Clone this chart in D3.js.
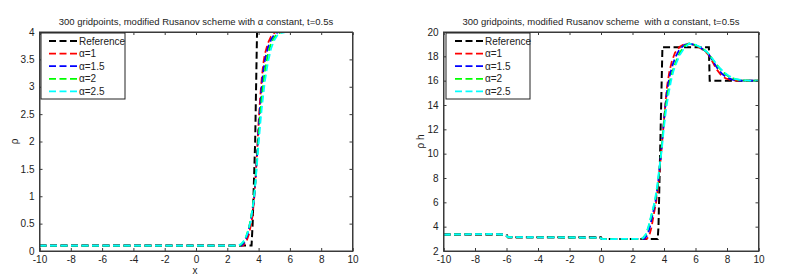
<!DOCTYPE html>
<html><head><meta charset="utf-8">
<script src="https://cdn.jsdelivr.net/npm/d3@7"></script>
<style>body{margin:0;background:#fff}svg{display:block}text{font-family:"Liberation Sans",Arial,sans-serif;fill:#222}</style>
</head><body>
<svg id="c" width="797" height="278"></svg>
<script>
const seriesNames = ["Reference","α=1","α=1.5","α=2","α=2.5"];
const seriesColors = ["#000000","#ff0000","#0000ff","#00ff00","#00ffff"];
const xTicks = [-10,-8,-6,-4,-2,0,2,4,6,8,10];
const rhoTicks = [0,0.5,1,1.5,2,2.5,3,3.5,4];
const rhohTicks = [2,4,6,8,10,12,14,16,18,20];

// Left panel: rho(x)
const rhoRef   = [[-10,0.1],[3.55,0.1],[3.62,0.5],[3.78,2.0],[3.9,4.0],[10,4.0]];
const rhoA1    = [[-10,0.1],[3.0,0.1],[3.2,0.16],[3.4,0.32],[3.6,0.62],[3.7,0.9],[3.8,1.3],[3.9,1.8],[4.0,2.35],[4.1,2.8],[4.2,3.15],[4.3,3.42],[4.4,3.6],[4.6,3.8],[4.8,3.92],[5.0,3.98],[5.1,4.0],[10,4.0]];
const rhoA15   = [[-10,0.1],[2.9,0.1],[3.1,0.16],[3.3,0.3],[3.5,0.57],[3.7,0.92],[3.8,1.28],[3.9,1.73],[4.0,2.22],[4.1,2.65],[4.2,3.0],[4.3,3.28],[4.4,3.48],[4.6,3.72],[4.8,3.86],[5.0,3.95],[5.2,3.99],[5.3,4.0],[10,4.0]];
const rhoA2    = [[-10,0.1],[2.8,0.1],[3.0,0.15],[3.2,0.26],[3.4,0.44],[3.6,0.75],[3.7,0.98],[3.8,1.27],[3.9,1.67],[4.0,2.1],[4.1,2.48],[4.2,2.8],[4.3,3.06],[4.4,3.28],[4.6,3.6],[4.8,3.8],[5.0,3.9],[5.2,3.97],[5.5,4.0],[10,4.0]];
const rhoA25   = [[-10,0.1],[2.7,0.1],[2.9,0.13],[3.1,0.2],[3.3,0.33],[3.5,0.55],[3.7,0.95],[3.8,1.25],[3.9,1.6],[4.0,1.95],[4.1,2.3],[4.2,2.6],[4.3,2.85],[4.4,3.1],[4.6,3.45],[4.8,3.7],[5.0,3.85],[5.2,3.94],[5.4,3.98],[5.7,4.0],[10,4.0]];

// Right panel: rho*h(x)
const rhohRef  = [[-10,3.35],[-6,3.35],[-5.9,3.12],[0,3.12],[0.05,2.98],[3.6,2.98],[3.65,4.0],[3.9,18.75],[6.85,18.75],[6.9,16.0],[10,16.0]];
const rhohA1   = [[-10,3.35],[-7,3.38],[-6.1,3.35],[-5.9,3.13],[-0.1,3.1],[0.1,2.98],[2.9,3.0],[3.05,3.2],[3.2,3.9],[3.35,5.0],[3.5,6.0],[3.65,7.6],[3.8,9.7],[3.95,12.0],[4.1,14.3],[4.2,15.6],[4.35,16.8],[4.5,17.6],[4.7,18.3],[5.0,18.8],[5.3,19.0],[5.6,19.05],[6.0,18.9],[6.4,18.6],[6.7,18.3],[6.9,18.0],[7.1,17.5],[7.3,17.0],[7.6,16.5],[7.9,16.2],[8.3,16.03],[8.6,16.0],[10,16.0]];
const rhohA15  = [[-10,3.35],[-7,3.38],[-6.1,3.35],[-5.9,3.13],[-0.1,3.1],[0.1,2.98],[2.75,3.0],[2.95,3.3],[3.1,3.95],[3.28,5.0],[3.45,6.0],[3.62,7.5],[3.8,9.8],[3.95,12.0],[4.1,14.1],[4.22,15.4],[4.38,16.5],[4.55,17.3],[4.75,18.0],[5.0,18.6],[5.3,18.95],[5.6,19.05],[6.0,18.92],[6.4,18.65],[6.7,18.35],[6.9,18.05],[7.15,17.5],[7.4,17.0],[7.7,16.55],[8.0,16.25],[8.4,16.06],[8.8,16.0],[10,16.0]];
const rhohA2   = [[-10,3.35],[-7,3.38],[-6.1,3.35],[-5.9,3.13],[-0.1,3.1],[0.1,2.98],[2.6,3.0],[2.85,3.35],[3.02,4.0],[3.22,5.0],[3.42,6.0],[3.6,7.4],[3.78,9.6],[3.95,11.9],[4.1,13.8],[4.25,15.1],[4.42,16.2],[4.6,17.0],[4.8,17.7],[5.0,18.3],[5.3,18.85],[5.6,19.05],[6.0,18.93],[6.4,18.68],[6.7,18.38],[6.9,18.08],[7.2,17.55],[7.5,17.05],[7.8,16.65],[8.1,16.35],[8.5,16.12],[9.0,16.02],[10,16.0]];
const rhohA25  = [[-10,3.35],[-7,3.4],[-6.1,3.35],[-5.9,3.14],[-0.1,3.1],[0.1,2.98],[2.45,3.0],[2.7,3.1],[2.9,3.5],[3.05,4.2],[3.2,5.0],[3.4,6.0],[3.55,7.2],[3.7,8.8],[3.85,10.2],[4.0,12.2],[4.15,13.8],[4.3,15.0],[4.45,16.0],[4.6,16.8],[4.8,17.5],[5.0,18.1],[5.3,18.7],[5.6,19.05],[6.0,18.95],[6.4,18.7],[6.7,18.4],[6.9,18.1],[7.2,17.6],[7.5,17.1],[7.8,16.7],[8.1,16.4],[8.5,16.15],[9.0,16.03],[9.5,16.0],[10,16.0]];

const panels = [
  {x0:39.5,x1:352.5,y0:32,y1:251,yDom:[0,4],yTicks:rhoTicks,yFmt:d=>String(d),
   data:[rhoRef,rhoA1,rhoA15,rhoA2,rhoA25],
   title:"300 gridpoints, modified Rusanov scheme with \u03b1 constant, t=0.5s",
   xlabel:"x", ylabel:"\u03c1", ylabX:15, legX:41, legLineX:49},
  {x0:443.5,x1:758.5,y0:32,y1:251,yDom:[2,20],yTicks:rhohTicks,yFmt:d=>String(d),
   data:[rhohRef,rhohA1,rhohA15,rhohA2,rhohA25],
   title:"300 gridpoints, modified Rusanov scheme  with \u03b1 constant, t=0.5s",
   xlabel:null, ylabel:"\u03c1 h", ylabX:421, legX:446, legLineX:455}
];

const svg = d3.select("#c");
const axCol = "#3a3a3a";
const dash = "7,3.5";

panels.forEach((p,pi)=>{
  const x = d3.scaleLinear().domain([-10,10]).range([p.x0,p.x1]);
  const y = d3.scaleLinear().domain(p.yDom).range([p.y1,p.y0]);
  const g = svg.append("g");
  const clipId = "clip"+pi;
  svg.append("clipPath").attr("id",clipId).append("rect")
    .attr("x",p.x0).attr("y",p.y0).attr("width",p.x1-p.x0).attr("height",p.y1-p.y0);

  const line = d3.line().x(d=>x(d[0])).y(d=>y(d[1]));
  const lg = g.append("g").attr("clip-path",`url(#${clipId})`);
  p.data.forEach((d,i)=>{
    lg.append("path").attr("d",line(d)).attr("fill","none")
      .attr("stroke",seriesColors[i]).attr("stroke-width",i===0?2:1.8)
      .attr("stroke-dasharray",dash);
  });

  const tickLen = 3;
  const bottom = g.append("g").attr("transform",`translate(0,${p.y1})`)
    .call(d3.axisBottom(x).tickValues(xTicks).tickSize(-tickLen).tickPadding(5).tickFormat(d=>String(d)));
  const top = g.append("g").attr("transform",`translate(0,${p.y0})`)
    .call(d3.axisTop(x).tickValues(xTicks).tickSize(-tickLen).tickFormat(""));
  const left = g.append("g").attr("transform",`translate(${p.x0},0)`)
    .call(d3.axisLeft(y).tickValues(p.yTicks).tickSize(-tickLen).tickPadding(5).tickFormat(p.yFmt));
  const right = g.append("g").attr("transform",`translate(${p.x1},0)`)
    .call(d3.axisRight(y).tickValues(p.yTicks).tickSize(-tickLen).tickFormat(""));
  [bottom,top,left,right].forEach(a=>{
    a.select(".domain").attr("stroke",axCol).attr("stroke-width",1);
    a.selectAll(".tick line").attr("stroke",axCol);
    a.selectAll("text").style("font-size","10px").attr("fill","#222");
  });
  g.append("rect").attr("x",p.x0).attr("y",p.y0).attr("width",p.x1-p.x0).attr("height",p.y1-p.y0)
    .attr("fill","none").attr("stroke",axCol).attr("stroke-width",1);

  g.append("text").attr("x",(p.x0+p.x1)/2).attr("y",25).attr("text-anchor","middle")
    .style("font-size","9.5px").style("white-space","pre").text(p.title);
  if(p.xlabel) g.append("text").attr("x",(p.x0+p.x1)/2-1).attr("y",274).attr("text-anchor","middle")
    .style("font-size","10px").text(p.xlabel);
  g.append("text").attr("transform",`translate(${p.ylabX+3},${(p.y0+p.y1)/2})rotate(-90)`)
    .attr("text-anchor","middle").style("font-size","10px").style("white-space","pre").text(p.ylabel);

  const lgW = 84, lgH = 66, rowH = 12.6;
  const leg = g.append("g");
  leg.append("rect").attr("x",p.legX).attr("y",33).attr("width",lgW).attr("height",lgH)
    .attr("fill","#fff").attr("stroke","#222").attr("stroke-width",1);
  seriesNames.forEach((n,i)=>{
    const yy = 41 + i*rowH;
    leg.append("line").attr("x1",p.legLineX).attr("x2",p.legLineX+28).attr("y1",yy).attr("y2",yy)
      .attr("stroke",seriesColors[i]).attr("stroke-width",i===0?2:1.8).attr("stroke-dasharray",dash);
    leg.append("text").attr("x",p.legLineX+30).attr("y",yy+3.5).style("font-size","10px").text(n);
  });
});
</script>
</body></html>
